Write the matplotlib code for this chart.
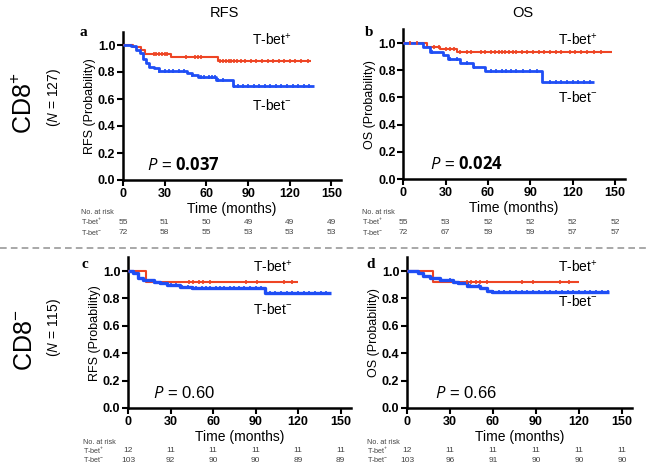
import matplotlib
matplotlib.use("Agg")
import matplotlib.pyplot as plt
from matplotlib import transforms
from matplotlib.lines import Line2D

plt.rcParams["font.family"] = ["Liberation Sans", "DejaVu Sans"]
plt.rcParams["mathtext.fontset"] = "custom"
plt.rcParams["mathtext.rm"] = "Open Sans"
plt.rcParams["mathtext.it"] = "Open Sans:italic"
plt.rcParams["mathtext.bf"] = "Open Sans:bold"

RED = "#ee4524"
BLUE = "#1f4ef5"

# Kaplan-Meier step data: (event times, survival after event)
# panel a: CD8+ RFS
a_pos_t = [0, 7, 13, 15.5, 34.5, 68.5]
a_pos_s = [1.0, 0.988, 0.963, 0.935, 0.91, 0.88]
a_pos_end = 135.5
a_pos_cens = [22, 24, 26, 28, 30, 32, 45, 52, 54, 56, 70, 72, 74, 76, 78, 80, 82, 85, 88, 92,
              96, 100, 104, 108, 112, 116, 120, 124, 128, 133]
a_neg_t = [0, 6, 9.6, 12, 14.3, 16.7, 19, 22.5, 26, 46, 50, 54, 67, 79]
a_neg_s = [1.0, 0.99, 0.96, 0.94, 0.90, 0.865, 0.84, 0.827, 0.805, 0.79, 0.775, 0.76, 0.74, 0.70]
a_neg_end = 137.5
a_neg_cens = [26, 30, 33, 36, 40, 44, 50, 56, 58, 62, 64, 66, 68, 72, 80, 83, 86, 90, 94, 98,
              102, 106, 110, 114, 118, 122, 126, 130, 134]

# panel b: CD8+ OS
b_pos_t = [0, 17, 26, 38]
b_pos_s = [1.0, 0.974, 0.953, 0.936]
b_pos_end = 148
b_pos_cens = [5, 10, 22, 25, 30, 33, 36, 40, 45, 48, 55, 58, 62, 65, 68, 70, 72, 75, 78, 80,
              84, 88, 92, 96, 100, 104, 108, 112, 118, 122, 126, 130, 135, 140]
b_neg_t = [0, 14.2, 18.9, 28.3, 31.9, 40.2, 49.6, 57.9, 98.6]
b_neg_s = [1.0, 0.974, 0.936, 0.912, 0.88, 0.85, 0.826, 0.792, 0.716]
b_neg_end = 135
b_neg_cens = [20, 33, 38, 45, 50, 62, 66, 70, 73, 76, 80, 85, 90, 95, 104, 108, 112, 116,
              120, 124, 128, 132]

# panel c: CD8- RFS
c_pos_t = [0, 13]
c_pos_s = [1.0, 0.922]
c_pos_end = 120
c_pos_cens = [43, 46, 50, 53, 58, 83, 91, 110, 116]
c_neg_t = [0, 3.8, 7.3, 10.9, 18, 22.6, 27.3, 36.7, 45, 96.5]
c_neg_s = [1.0, 0.985, 0.95, 0.934, 0.92, 0.91, 0.898, 0.886, 0.874, 0.843]
c_neg_end = 143
c_neg_cens = [30, 34, 38, 42, 48, 52, 55, 58, 62, 65, 68, 72, 75, 78, 82, 86, 90, 94, 100,
              104, 108, 112, 116, 120, 124, 128, 132, 136, 140]

# panel d: CD8- OS
d_pos_t = [0, 18.4]
d_pos_s = [1.0, 0.922]
d_pos_end = 120
d_pos_cens = [42, 45, 48, 51, 56, 80, 88, 107, 113]
d_neg_t = [0, 7.9, 11.4, 16, 23, 32.3, 35.8, 41.6, 51, 55.6, 59.1]
d_neg_s = [1.0, 0.983, 0.963, 0.946, 0.934, 0.922, 0.91, 0.89, 0.873, 0.856, 0.85]
d_neg_end = 141
d_neg_cens = [30, 36, 44, 50, 60, 64, 68, 72, 76, 80, 84, 88, 92, 96, 100, 104, 108, 112,
              116, 120, 124, 128, 132, 136, 140]

# numbers at risk
risk_times = [0, 30, 60, 90, 120, 150]
a_risk_pos = [55, 51, 50, 49, 49, 49]
a_risk_neg = [72, 58, 55, 53, 53, 53]
b_risk_pos = [55, 53, 52, 52, 52, 52]
b_risk_neg = [72, 67, 59, 59, 57, 57]
c_risk_pos = [12, 11, 11, 11, 11, 11]
c_risk_neg = [103, 92, 90, 90, 89, 89]
d_risk_pos = [12, 11, 11, 11, 11, 11]
d_risk_neg = [103, 96, 91, 90, 90, 90]

W, H = 649, 466
fig = plt.figure(figsize=(W / 100, H / 100), dpi=100)


def px_axes(x0, x1, ytop, ybot):
    return fig.add_axes([x0 / W, 1 - ybot / H, (x1 - x0) / W, (ybot - ytop) / H])


def ftext(x, y, s, **kw):
    fig.text(x / W, 1 - y / H, s, **kw)


def step_value(t_list, s_list, t):
    val = s_list[0]
    for ti, si in zip(t_list, s_list):
        if ti <= t:
            val = si
    return val


def km(ax, t_list, s_list, end, cens, color, lw):
    xs = list(t_list) + [end]
    ys = list(s_list) + [s_list[-1]]
    ax.step(xs, ys, where="post", color=color, lw=lw, solid_capstyle="butt", zorder=3)
    cy = [step_value(t_list, s_list, c) for c in cens]
    ax.plot(cens, cy, ls="none", marker="|", ms=3.5, mew=1.2, color=color, zorder=4)


def style(ax, ylabel):
    ax.set_xlim(0, 157)
    ax.set_ylim(0, 1.1)
    ax.set_xticks([0, 30, 60, 90, 120, 150])
    ax.set_yticks([0.0, 0.2, 0.4, 0.6, 0.8, 1.0])
    ax.set_yticklabels(["0.0", "0.2", "0.4", "0.6", "0.8", "1.0"])
    for s in ["top", "right"]:
        ax.spines[s].set_visible(False)
    for s in ["left", "bottom"]:
        ax.spines[s].set_linewidth(1.8)
    ax.tick_params(width=1.5, length=4, labelsize=9, pad=1.5)
    for lab in ax.get_xticklabels() + ax.get_yticklabels():
        lab.set_fontweight("bold")
    ax.set_xlabel("Time (months)", fontsize=10, labelpad=2)
    ax.set_ylabel(ylabel, fontsize=9, labelpad=1.5)


def risk(ax, xlab, ys, pos, neg):
    tr = transforms.blended_transform_factory(ax.transData, fig.transFigure)
    ftext(xlab, ys[0], "No. at risk", fontsize=5.2, color="#444", va="center")
    ftext(xlab, ys[1], r"T-bet$^{+}$", fontsize=5.2, color="#444", va="center")
    ftext(xlab, ys[2], r"T-bet$^{-}$", fontsize=5.2, color="#444", va="center")
    for t, p, n in zip(risk_times, pos, neg):
        ax.text(t, 1 - ys[1] / H, str(p), transform=tr, fontsize=6, color="#444",
                ha="center", va="center")
        ax.text(t, 1 - ys[2] / H, str(n), transform=tr, fontsize=6, color="#444",
                ha="center", va="center")


ax_a = px_axes(123, 341.2, 31.5, 180)
ax_b = px_axes(403.3, 624.8, 29.4, 179)
ax_c = px_axes(128, 350.5, 257.3, 408)
ax_d = px_axes(407, 632, 257.3, 408)

km(ax_a, a_pos_t, a_pos_s, a_pos_end, a_pos_cens, RED, 1.5)
km(ax_a, a_neg_t, a_neg_s, a_neg_end, a_neg_cens, BLUE, 2.0)
km(ax_b, b_pos_t, b_pos_s, b_pos_end, b_pos_cens, RED, 1.5)
km(ax_b, b_neg_t, b_neg_s, b_neg_end, b_neg_cens, BLUE, 2.0)
km(ax_c, c_pos_t, c_pos_s, c_pos_end, c_pos_cens, RED, 1.5)
km(ax_c, c_neg_t, c_neg_s, c_neg_end, c_neg_cens, BLUE, 2.4)
km(ax_d, d_pos_t, d_pos_s, d_pos_end, d_pos_cens, RED, 1.5)
km(ax_d, d_neg_t, d_neg_s, d_neg_end, d_neg_cens, BLUE, 2.4)

style(ax_a, "RFS (Probability)")
style(ax_b, "OS (Probability)")
style(ax_c, "RFS (Probability)")
style(ax_d, "OS (Probability)")

risk(ax_a, 81, [213, 222, 232], a_risk_pos, a_risk_neg)
risk(ax_b, 362, [213, 222, 232], b_risk_pos, b_risk_neg)
risk(ax_c, 83, [442, 451, 460], c_risk_pos, c_risk_neg)
risk(ax_d, 367, [442, 451, 460], d_risk_pos, d_risk_neg)

# column titles
ftext(224, 13, "RFS", fontsize=10.5, ha="center", va="center")
ftext(523, 13, "OS", fontsize=10.5, ha="center", va="center")

# row labels
ftext(25, 103, r"CD8$^{+}$", fontsize=18, rotation=90, ha="center", va="center")
ftext(54, 97, r"($\mathit{N}$ = 127)", fontsize=10, rotation=90, ha="center", va="center")
ftext(25, 340, r"CD8$^{-}$", fontsize=18, rotation=90, ha="center", va="center")
ftext(54, 327, r"($\mathit{N}$ = 115)", fontsize=10, rotation=90, ha="center", va="center")

# panel letters
for x, y, s in [(80, 33, "a"), (365, 33, "b"), (81, 265, "c"), (366, 265, "d")]:
    ftext(x, y, s, fontsize=11, fontweight="bold", family="Liberation Serif",
          ha="left", va="center")

# curve labels
for x, y, s in [(252, 40, r"T-bet$^{+}$"), (252, 105, r"T-bet$^{-}$"),
                (558, 40, r"T-bet$^{+}$"), (558, 97, r"T-bet$^{-}$"),
                (253, 267, r"T-bet$^{+}$"), (253, 310, r"T-bet$^{-}$"),
                (558, 267, r"T-bet$^{+}$"), (558, 302, r"T-bet$^{-}$")]:
    ftext(x, y, s, fontsize=10, ha="left", va="center")

# p values
ftext(147, 164, r"$P$ = $\mathbf{0.037}$", fontsize=12, ha="left", va="center")
ftext(430, 163, r"$P$ = $\mathbf{0.024}$", fontsize=12, ha="left", va="center")
ftext(153, 393, r"$P$ = 0.60", fontsize=12, ha="left", va="center")
ftext(435, 393, r"$P$ = 0.66", fontsize=12, ha="left", va="center")

# separator
fig.add_artist(Line2D([0.0, 1.0], [1 - 248 / H, 1 - 248 / H], transform=fig.transFigure,
                      color="#999999", lw=1.2, ls=(0, (4, 2.5))))

fig.savefig("out.png", dpi=100)
